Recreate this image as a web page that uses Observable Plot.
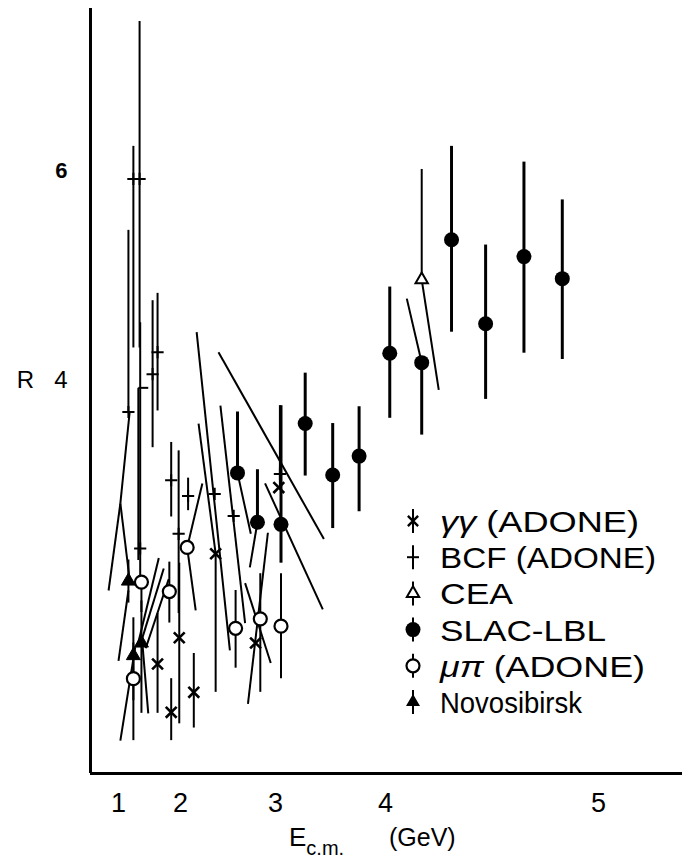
<!DOCTYPE html>
<html>
<head>
<meta charset="utf-8">
<script src="https://cdn.jsdelivr.net/npm/d3@7"></script>
<script src="https://cdn.jsdelivr.net/npm/@observablehq/plot@0.6"></script>
<style>
  html, body { margin: 0; padding: 0; background: #fff; }
  svg { display: block; }
</style>
</head>
<body>
<div id="chart"></div>
<script>
// ---------- DATA (E in GeV, R values) ----------
// each row: [E, R, R_low, R_high]
const slacLBL = [
  [2.60, 3.12, 3.12, 3.70],
  [2.81, 2.65, 2.65, 3.15],
  [3.05, 2.63, 2.26, 3.76],
  [3.27, 3.59, 3.09, 4.07],
  [3.52, 3.10, 2.59, 3.59],
  [3.76, 3.28, 2.75, 3.75],
  [4.02, 4.26, 3.64, 4.89],
  [4.17, 4.17, 3.48, 4.17],
  [4.31, 5.34, 4.46, 6.23],
  [4.47, 4.54, 3.82, 5.29],
  [4.65, 5.18, 4.26, 6.08],
  [4.83, 4.97, 4.20, 5.72]
];
const cea = [
  [4.17, 4.96, 4.96, 6.01]
];
const bcfAdone = [
  [1.24, 5.92, 4.31, 6.23],
  [1.34, 5.92, 4.31, 7.42],
  [1.16, 3.70, 3.70, 5.43],
  [1.55, 4.06, 3.36, 4.76],
  [1.63, 4.27, 3.71, 4.83],
  [1.35, 2.40, 2.08, 4.55],
  [1.85, 3.05, 2.70, 3.41],
  [1.97, 2.54, 1.78, 3.33],
  [2.08, 2.90, 2.76, 3.07],
  [2.36, 2.92, 2.92, 2.92],
  [2.56, 2.71, 2.71, 2.71],
  [3.04, 3.11, 2.98, 3.76]
];
const gammaGammaAdone = [
  [1.63, 1.30, 0.83, 1.78],
  [1.85, 0.84, 0.57, 1.16],
  [1.98, 1.55, 0.73, 2.26],
  [2.14, 1.03, 0.69, 1.40],
  [2.37, 2.35, 1.03, 2.35],
  [2.79, 1.50, 1.50, 1.50],
  [3.03, 2.98, 2.98, 2.98]
];
const muPiAdone = [
  [1.37, 2.08, 1.79, 2.08],
  [1.82, 1.99, 1.69, 2.27],
  [2.07, 2.41, 2.41, 2.41],
  [2.58, 1.64, 1.26, 2.00],
  [2.84, 1.73, 1.03, 2.16],
  [3.05, 1.66, 1.16, 2.16],
  [1.24, 1.16, 0.57, 1.50]
];
const novosibirsk = [
  [1.16, 2.09, 1.88, 2.29],
  [1.24, 1.38, 0.95, 1.74],
  [1.37, 1.50, 0.83, 1.90]
];
// slanted error-bar strokes: [E1, R1, E2, R2]
const slantedBars = [
  [1.18, 3.70, 1.03, 2.83],
  [1.03, 2.83, 0.84, 2.00],
  [1.03, 2.83, 1.18, 2.10],
  [1.32, 3.93, 1.48, 3.93],
  [1.32, 3.93, 1.32, 2.29],
  [2.23, 3.02, 2.07, 2.41],
  [2.07, 2.41, 2.16, 1.81],
  [2.17, 4.46, 2.52, 1.43],
  [2.19, 3.59, 2.37, 2.35],
  [2.42, 3.76, 2.68, 1.69],
  [2.40, 4.27, 3.44, 2.49],
  [2.89, 3.02, 3.43, 1.82],
  [2.60, 3.12, 2.74, 2.54],
  [2.81, 2.65, 2.73, 2.22],
  [2.68, 2.07, 2.95, 1.31],
  [2.92, 2.55, 2.71, 0.92],
  [4.10, 4.78, 4.17, 4.17],
  [4.17, 4.96, 4.25, 3.91],
  [1.03, 0.57, 1.27, 1.46],
  [1.00, 1.33, 1.16, 2.00],
  [1.31, 1.48, 1.65, 2.31],
  [1.37, 1.52, 1.73, 2.21],
  [1.44, 1.45, 1.81, 2.11],
  [1.39, 1.46, 1.48, 0.83]
];
// axis labels / scale breakpoints (the printed energy axis is non-uniform)
const xTickValues = [1, 2, 3, 4, 5];
const xTickLabels = ["1", "2", "3", "4", "5"];
const xScaleDomain = [0.548, 1, 2, 3, 4, 5, 5.394];
const xScaleRange  = [90, 118, 180, 275, 385, 598, 682];
const yScaleDomain = [0.257, 7.543];
const yTickPlain = [4];
const yTickBold = [6];
const legendLabels = [
  {sym: "gg",   greek: "γγ", text: " (ADONE)"},
  {sym: "bcf",  greek: "",   text: "BCF (ADONE)"},
  {sym: "cea",  greek: "",   text: "CEA"},
  {sym: "slac", greek: "",   text: "SLAC-LBL"},
  {sym: "mupi", greek: "μπ", text: " (ADONE)"},
  {sym: "novo", greek: "",   text: "Novosibirsk"}
];

// ---------- BUILD ----------
const FONT = "'Liberation Sans', Arial, Helvetica, sans-serif";
const toRows = arr => arr.map(([E, R, lo, hi]) => ({E, R, lo, hi}));
const slac = toRows(slacLBL), ceaR = toRows(cea), bcf = toRows(bcfAdone),
      gg = toRows(gammaGammaAdone), mp = toRows(muPiAdone), nv = toRows(novosibirsk);
const thinBars = [...ceaR, ...bcf, ...gg, ...mp, ...nv].filter(d => d.hi > d.lo);
const segs = slantedBars.map(([x1, y1, x2, y2]) => ({x1, y1, x2, y2}));

const plot = Plot.plot({
  width: 682,
  height: 867,
  marginLeft: 90,
  marginRight: 0,
  marginTop: 8,
  marginBottom: 94,
  style: {fontFamily: FONT, fontSize: "26px", color: "black", background: "white", overflow: "visible"},
  x: {type: "linear", domain: xScaleDomain, range: xScaleRange},
  y: {type: "linear", domain: yScaleDomain},
  marks: [
    Plot.link(segs, {x1: "x1", y1: "y1", x2: "x2", y2: "y2", stroke: "black", strokeWidth: 2}),
    Plot.ruleX(thinBars, {x: "E", y1: "lo", y2: "hi", stroke: "black", strokeWidth: 2}),
    Plot.ruleX(slac.filter(d => d.hi > d.lo), {x: "E", y1: "lo", y2: "hi", stroke: "black", strokeWidth: 3}),
    Plot.dot(bcf, {x: "E", y: "R", symbol: "plus", r: 4, stroke: "black", strokeWidth: 2}),
    Plot.dot(gg, {x: "E", y: "R", symbol: "times", r: 5, stroke: "black", strokeWidth: 2.6}),
    Plot.dot(nv, {x: "E", y: "R", symbol: "triangle", r: 5.2, fill: "black", stroke: "black", strokeWidth: 1}),
    Plot.dot(mp, {x: "E", y: "R", symbol: "circle", r: 6.5, fill: "white", stroke: "black", strokeWidth: 2.2}),
    Plot.dot(ceaR, {x: "E", y: "R", symbol: "triangle", r: 4.6, fill: "white", stroke: "black", strokeWidth: 2}),
    Plot.dot(slac, {x: "E", y: "R", symbol: "circle", r: 7.5, fill: "black"}),
    Plot.ruleX([xScaleDomain[0]], {stroke: "black", strokeWidth: 3}),
    Plot.ruleY([yScaleDomain[0]], {stroke: "black", strokeWidth: 3}),
    Plot.axisX({ticks: xTickValues, tickFormat: d => xTickLabels[xTickValues.indexOf(d)],
      tickSize: 0, tickPadding: 19, label: null, fontSize: 27}),
    Plot.axisY({ticks: yTickPlain, tickFormat: d => "R\u00a0\u00a0\u00a0" + d,
      tickSize: 0, tickPadding: 23, label: null, fontSize: 24}),
    Plot.axisY({ticks: yTickBold, tickFormat: d => String(d),
      tickSize: 0, tickPadding: 23, label: null, fontSize: 22, fontWeight: "bold"})
  ]
});

const svg = d3.select(plot);

// axis title: E_c.m. (GeV)
const title = svg.append("text")
  .attr("font-family", FONT).attr("font-size", 26).attr("fill", "black")
  .attr("text-anchor", "start").attr("y", 846);
title.append("tspan").attr("x", 289).text("E");
title.append("tspan").attr("font-size", 20).attr("dy", 9).text("c.m.");
title.append("tspan").attr("x", 389).attr("dy", -9).attr("font-size", 25).text("(GeV)");

// legend
const legendWidths = [199, 216, 73, 166, 205, 142];
const lg = svg.append("g").attr("font-family", FONT).attr("fill", "black").attr("text-anchor", "start");
const symX = 413, textX = 440, row0 = 521, rowStep = 36.2;
legendLabels.forEach((item, i) => {
  const cy = row0 + i * rowStep;
  const g = lg.append("g").attr("transform", `translate(${symX},${cy})`);
  g.append("line").attr("x1", 0).attr("x2", 0).attr("y1", -12).attr("y2", 12)
    .attr("stroke", "black").attr("stroke-width", 2);
  if (item.sym === "gg") {
    g.append("path").attr("d", d3.symbol(d3.symbolTimes, 70)()).attr("stroke", "black").attr("stroke-width", 2.4).attr("fill", "none");
  } else if (item.sym === "bcf") {
    g.append("line").attr("x1", -6).attr("x2", 6).attr("y1", 0).attr("y2", 0).attr("stroke", "black").attr("stroke-width", 2);
  } else if (item.sym === "cea") {
    g.append("path").attr("d", d3.symbol(d3.symbolTriangle, 66)()).attr("stroke", "black").attr("stroke-width", 2).attr("fill", "white");
  } else if (item.sym === "slac") {
    g.append("circle").attr("r", 7.5).attr("fill", "black");
  } else if (item.sym === "mupi") {
    g.append("circle").attr("r", 6.5).attr("fill", "white").attr("stroke", "black").attr("stroke-width", 2.2);
  } else if (item.sym === "novo") {
    g.append("path").attr("d", d3.symbol(d3.symbolTriangle, 85)()).attr("fill", "black");
  }
  const t = lg.append("text").attr("x", textX).attr("y", cy + 11)
    .attr("font-size", 30)
    .attr("textLength", legendWidths[i]).attr("lengthAdjust", "spacingAndGlyphs");
  if (item.greek) t.append("tspan").attr("font-style", "italic").text(item.greek);
  t.append("tspan").text(item.text);
});

document.getElementById("chart").appendChild(plot);
</script>
</body>
</html>
